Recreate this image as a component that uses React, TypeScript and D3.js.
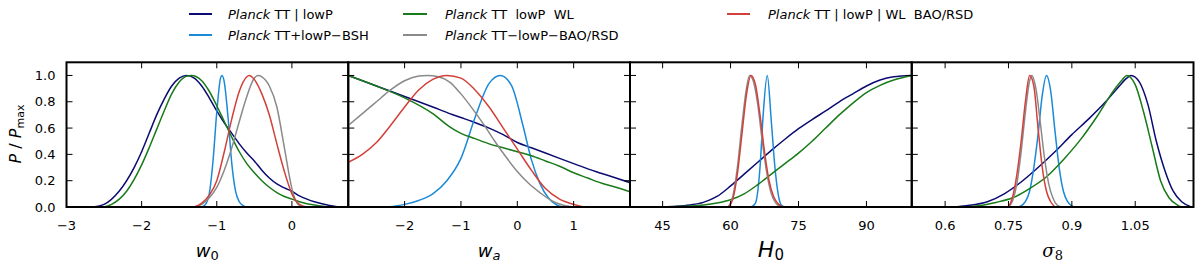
import React, { useRef, useEffect } from "react";
import * as d3 from "d3";

type Pt = [number, number];

// ---- w0 panel
const w0Navy: Pt[] = [[-2.65,0],[-2.5,0.02],[-2.3,0.12],[-2.1,0.3],[-2.0,0.42],[-1.9,0.56],[-1.8,0.7],[-1.7,0.82],[-1.6,0.92],[-1.5,0.98],[-1.4,1.0],[-1.3,0.98],[-1.2,0.92],[-1.1,0.83],[-1.0,0.73],[-0.9,0.64],[-0.8,0.56],[-0.7,0.48],[-0.6,0.41],[-0.5,0.35],[-0.4,0.28],[-0.3,0.22],[-0.2,0.175],[-0.1,0.145],[0.0,0.12],[0.1,0.085],[0.2,0.06],[0.3,0.04],[0.4,0.025],[0.5,0.012],[0.65,0.0]];
const w0Blue: Pt[] = [[-1.2,0],[-1.15,0.02],[-1.1,0.1],[-1.05,0.35],[-1.0,0.72],[-0.95,0.98],[-0.93,1.0],[-0.9,0.95],[-0.85,0.68],[-0.8,0.33],[-0.75,0.12],[-0.7,0.04],[-0.65,0.01],[-0.6,0]];
const w0Green: Pt[] = [[-2.5,0],[-2.4,0.02],[-2.2,0.12],[-2.0,0.32],[-1.9,0.45],[-1.8,0.59],[-1.7,0.73],[-1.6,0.86],[-1.5,0.95],[-1.4,0.995],[-1.34,1.0],[-1.2,0.96],[-1.1,0.88],[-1.0,0.77],[-0.9,0.65],[-0.8,0.53],[-0.7,0.42],[-0.6,0.33],[-0.5,0.26],[-0.4,0.2],[-0.3,0.15],[-0.2,0.11],[-0.1,0.08],[0.0,0.06],[0.1,0.04],[0.2,0.025],[0.3,0.015],[0.5,0]];
const w0Grey: Pt[] = [[-1.3,0],[-1.2,0.02],[-1.1,0.07],[-1.0,0.15],[-0.9,0.28],[-0.8,0.45],[-0.7,0.65],[-0.6,0.84],[-0.5,0.98],[-0.45,1.0],[-0.4,0.99],[-0.3,0.92],[-0.2,0.76],[-0.1,0.45],[0.0,0.14],[0.05,0.05],[0.1,0.01],[0.15,0]];
const w0Red: Pt[] = [[-1.3,0],[-1.2,0.03],[-1.1,0.09],[-1.0,0.2],[-0.9,0.42],[-0.8,0.67],[-0.7,0.88],[-0.6,0.99],[-0.57,1.0],[-0.5,0.97],[-0.4,0.86],[-0.3,0.7],[-0.2,0.48],[-0.1,0.27],[0.0,0.1],[0.1,0.02],[0.2,0]];

// ---- wa panel
const waNavy: Pt[] = [[-3,1.0],[-2.5,0.92],[-2.0,0.84],[-1.5,0.76],[-1.2,0.71],[-1.0,0.68],[-0.8,0.65],[-0.5,0.6],[-0.25,0.55],[0,0.49],[0.25,0.45],[0.5,0.41],[0.75,0.37],[1.0,0.33],[1.25,0.29],[1.5,0.255],[1.75,0.22],[2.0,0.185]];
const waBlue: Pt[] = [[-2.3,0],[-2.0,0.02],[-1.75,0.05],[-1.5,0.1],[-1.25,0.2],[-1.0,0.37],[-0.75,0.68],[-0.5,0.94],[-0.3,1.0],[-0.1,0.92],[0.1,0.62],[0.25,0.36],[0.4,0.18],[0.55,0.07],[0.7,0.015],[0.8,0]];
const waGreen: Pt[] = [[-3,1.0],[-2.5,0.92],[-2.0,0.83],[-1.5,0.71],[-1.2,0.61],[-1.0,0.56],[-0.75,0.52],[-0.5,0.48],[-0.25,0.45],[0,0.42],[0.25,0.39],[0.5,0.35],[0.75,0.31],[1.0,0.26],[1.25,0.22],[1.5,0.18],[1.75,0.15],[2.0,0.115]];
const waGrey: Pt[] = [[-3,0.62],[-2.75,0.71],[-2.5,0.8],[-2.25,0.89],[-2.0,0.96],[-1.75,0.995],[-1.6,1.0],[-1.4,0.99],[-1.2,0.95],[-1.0,0.86],[-0.8,0.75],[-0.6,0.63],[-0.4,0.5],[-0.2,0.38],[0,0.27],[0.2,0.18],[0.4,0.11],[0.6,0.05],[0.8,0.015],[1.0,0]];
const waRed: Pt[] = [[-3,0.34],[-2.75,0.4],[-2.5,0.49],[-2.25,0.62],[-2.0,0.76],[-1.75,0.89],[-1.5,0.97],[-1.25,1.0],[-1.0,0.98],[-0.75,0.89],[-0.5,0.76],[-0.25,0.6],[0,0.44],[0.25,0.28],[0.5,0.14],[0.75,0.06],[1.0,0.02],[1.2,0]];

// ---- H0 panel
const h0Navy: Pt[] = [[45,0],[48,0.005],[51,0.015],[54,0.035],[57,0.08],[60,0.16],[63,0.25],[66,0.34],[69,0.43],[72,0.515],[75,0.595],[78,0.665],[81,0.73],[84,0.8],[87,0.86],[90,0.92],[93,0.965],[96,0.99],[100,1.0]];
const h0Blue: Pt[] = [[64.5,0],[65.5,0.03],[66.5,0.3],[67.2,0.7],[68.1,1.0],[69,0.65],[69.8,0.3],[70.5,0.1],[71.3,0.01],[72,0]];
const h0Green: Pt[] = [[45,0],[50,0.005],[54,0.015],[57,0.03],[60,0.055],[63,0.1],[66,0.17],[69,0.25],[72,0.33],[75,0.41],[78,0.5],[81,0.6],[84,0.7],[87,0.79],[90,0.87],[93,0.925],[96,0.965],[100,1.0]];
const h0Grey: Pt[] = [[59.5,0],[60.5,0.08],[61.5,0.3],[62.5,0.62],[63.5,0.9],[64.2,1.0],[65,0.96],[66,0.78],[67,0.5],[68,0.26],[69,0.1],[70,0.03],[71,0]];
const h0Red: Pt[] = [[59.5,0],[60.5,0.06],[61.5,0.25],[62.5,0.55],[63.5,0.85],[64.5,1.0],[65.5,0.93],[66.5,0.7],[67.5,0.42],[68.5,0.2],[69.5,0.08],[70.5,0.025],[71.5,0]];

// ---- sigma8 panel
const s8Navy: Pt[] = [[0.62,0],[0.65,0.01],[0.7,0.04],[0.74,0.1],[0.78,0.19],[0.82,0.3],[0.86,0.42],[0.9,0.55],[0.94,0.67],[0.98,0.8],[1.01,0.91],[1.03,0.98],[1.04,1.0],[1.06,0.95],[1.08,0.78],[1.1,0.5],[1.12,0.28],[1.14,0.12],[1.16,0.04],[1.18,0.005]];
const s8Blue: Pt[] = [[0.775,0],[0.79,0.04],[0.8,0.12],[0.81,0.3],[0.82,0.55],[0.83,0.85],[0.84,1.0],[0.85,0.88],[0.86,0.58],[0.87,0.3],[0.88,0.12],[0.89,0.04],[0.9,0.008],[0.905,0]];
const s8Green: Pt[] = [[0.64,0],[0.68,0.01],[0.72,0.035],[0.76,0.07],[0.8,0.14],[0.84,0.23],[0.88,0.36],[0.92,0.51],[0.96,0.69],[1.0,0.89],[1.02,0.97],[1.03,1.0],[1.05,0.93],[1.07,0.72],[1.09,0.46],[1.11,0.2],[1.13,0.07],[1.15,0.015],[1.16,0]];
const s8Grey: Pt[] = [[0.75,0],[0.76,0.05],[0.77,0.18],[0.78,0.42],[0.79,0.72],[0.8,0.96],[0.805,1.0],[0.815,0.9],[0.825,0.65],[0.835,0.38],[0.845,0.18],[0.855,0.07],[0.865,0.015],[0.875,0]];
const s8Red: Pt[] = [[0.75,0],[0.76,0.08],[0.77,0.25],[0.78,0.5],[0.79,0.8],[0.8,1.0],[0.81,0.92],[0.82,0.6],[0.83,0.3],[0.84,0.12],[0.85,0.04],[0.86,0]];

const colors = ["#0b0b72", "#1a8ad8", "#187a18", "#8a8a8a", "#d2403a"];
const legendLabels = [
  "TT | lowP",
  "TT+lowP\u2212BSH",
  "TT  lowP  WL",
  "TT\u2212lowP\u2212BAO/RSD",
  "TT | lowP | WL  BAO/RSD",
];
const yTicks = [0, 0.2, 0.4, 0.6, 0.8, 1.0];

const panels = [
  { domain: [-3, 0.75], ticks: [-3, -2, -1, 0], tickText: ["\u22123", "\u22122", "\u22121", "0"], sub: "w0", series: [w0Navy, w0Blue, w0Green, w0Grey, w0Red] },
  { domain: [-3, 2], ticks: [-2, -1, 0, 1], tickText: ["\u22122", "\u22121", "0", "1"], sub: "wa", series: [waNavy, waBlue, waGreen, waGrey, waRed] },
  { domain: [37.8, 100], ticks: [45, 60, 75, 90], tickText: ["45", "60", "75", "90"], sub: "H0", series: [h0Navy, h0Blue, h0Green, h0Grey, h0Red] },
  { domain: [0.521, 1.188], ticks: [0.6, 0.75, 0.9, 1.05], tickText: ["0.6", "0.75", "0.9", "1.05"], sub: "s8", series: [s8Navy, s8Blue, s8Green, s8Grey, s8Red] },
];

const App = () => {
  const ref = useRef<SVGSVGElement>(null);

  useEffect(() => {
    const svg = d3.select(ref.current);
    svg.selectAll("*").remove();

    const left = 66.5;
    const pw = 281.75;
    const top = 62.3;
    const bottom = 207;
    const y = d3.scaleLinear().domain([0, 1.1]).range([bottom, top]);
    const font = "DejaVu Sans, sans-serif";

    panels.forEach((p, i) => {
      const x0 = left + i * pw;
      const x = d3.scaleLinear().domain(p.domain).range([x0, x0 + pw]);
      const g = svg.append("g");

      const clipId = `clip${i}`;
      g.append("clipPath").attr("id", clipId)
        .append("rect").attr("x", x0).attr("y", top).attr("width", pw).attr("height", bottom - top);

      const line = d3.line<Pt>().x((d) => x(d[0])).y((d) => y(d[1])).curve(d3.curveMonotoneX);
      p.series.forEach((s, k) => {
        g.append("path")
          .attr("d", line(s))
          .attr("fill", "none")
          .attr("stroke", colors[k])
          .attr("stroke-width", 1.5)
          .attr("clip-path", `url(#${clipId})`);
      });

      // ticks, inward on all sides
      p.ticks.forEach((t, j) => {
        const tx = x(t);
        g.append("line").attr("x1", tx).attr("x2", tx).attr("y1", bottom).attr("y2", bottom - 6).attr("stroke", "#000");
        g.append("line").attr("x1", tx).attr("x2", tx).attr("y1", top).attr("y2", top + 6).attr("stroke", "#000");
        g.append("text").attr("x", tx).attr("y", 230).attr("text-anchor", "middle")
          .attr("font-family", font).attr("font-size", 13).text(p.tickText[j]);
      });
      yTicks.forEach((t) => {
        g.append("line").attr("x1", x0).attr("x2", x0 + 6).attr("y1", y(t)).attr("y2", y(t)).attr("stroke", "#000");
        g.append("line").attr("x1", x0 + pw).attr("x2", x0 + pw - 6).attr("y1", y(t)).attr("y2", y(t)).attr("stroke", "#000");
        if (i === 0) {
          g.append("text").attr("x", x0 - 11).attr("y", y(t)).attr("dy", "0.35em").attr("text-anchor", "end")
            .attr("font-family", font).attr("font-size", 13).text(t.toFixed(1));
        }
      });

      g.append("rect").attr("x", x0).attr("y", top).attr("width", pw).attr("height", bottom - top)
        .attr("fill", "none").attr("stroke", "#000").attr("stroke-width", 2);

      // axis label
      const cx = x0 + pw / 2;
      const lab = g.append("text").attr("x", cx).attr("y", 257).attr("text-anchor", "middle")
        .attr("font-family", font);
      if (p.sub === "w0" || p.sub === "wa") {
        lab.attr("font-size", 18);
        lab.append("tspan").attr("font-style", "italic").text("w");
        lab.append("tspan").attr("font-size", 13).attr("dy", 3).attr("font-style", p.sub === "wa" ? "italic" : "normal").text(p.sub === "w0" ? "0" : "a");
      } else if (p.sub === "H0") {
        lab.attr("font-size", 22);
        lab.append("tspan").attr("font-style", "italic").text("H");
        lab.append("tspan").attr("font-size", 15).attr("dy", 3).text("0");
      } else {
        lab.attr("font-size", 18).attr("font-family", "DejaVu Serif, serif");
        lab.append("tspan").attr("font-style", "italic").text("\u03c3");
        lab.append("tspan").attr("font-size", 13).attr("dy", 3).text("8");
      }
    });

    // y axis label
    const yl = svg.append("text")
      .attr("transform", "translate(21,134) rotate(-90)")
      .attr("text-anchor", "middle")
      .attr("font-family", font)
      .attr("font-size", 16)
      .style("white-space", "pre");
    yl.append("tspan").attr("font-style", "italic").text("P");
    yl.append("tspan").text(" / ");
    yl.append("tspan").attr("font-style", "italic").text("P");
    yl.append("tspan").attr("font-size", 11).attr("dy", 3).text("max");

    // legend
    const legendPos = [
      { x1: 189, x2: 212, tx: 228, ty: 14 },
      { x1: 189, x2: 212, tx: 228, ty: 35 },
      { x1: 403, x2: 427, tx: 445, ty: 14 },
      { x1: 403, x2: 427, tx: 445, ty: 35 },
      { x1: 727, x2: 750, tx: 768, ty: 14 },
    ];
    legendLabels.forEach((lbl, k) => {
      const lp = legendPos[k];
      svg.append("line").attr("x1", lp.x1).attr("x2", lp.x2).attr("y1", lp.ty).attr("y2", lp.ty)
        .attr("stroke", colors[k]).attr("stroke-width", 2);
      const t = svg.append("text").attr("x", lp.tx).attr("y", lp.ty).attr("dy", "0.35em")
        .attr("font-family", font).attr("font-size", 13).style("white-space", "pre");
      t.append("tspan").attr("font-style", "italic").text("Planck");
      t.append("tspan").text(" " + lbl);
    });
  }, []);

  return (
    <svg
      ref={ref}
      width={1200}
      height={267}
      style={{ position: "absolute", left: 0, top: 0, background: "#fff" }}
    />
  );
};

export default App;
